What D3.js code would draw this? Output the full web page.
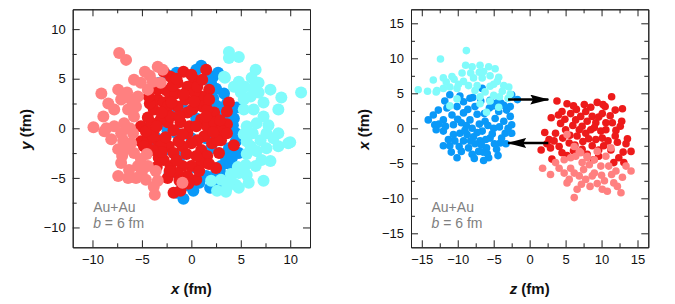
<!DOCTYPE html>
<html lang="en">
<head>
    <meta charset="UTF-8">
    <title>Au+Au nucleon positions</title>
    <script src="https://d3js.org/d3.v7.min.js"></script>
    <style>
        body { margin: 0; background: #fff; }
        svg { font-family: "Liberation Sans", Arial, Helvetica, sans-serif; }
        .axis path, .axis line { stroke: #222; }
        .axis text { font-size: 13px; fill: #111; }
        .label { font-size: 15px; font-weight: bold; fill: #111; }
        .note { font-size: 14px; fill: #808080; }
    </style>
</head>
<body>
    <svg id="chart" width="675" height="304"></svg>

    <script>
        // Left panel: transverse plane, [x, y] in fm
        const leftSalmon = [
            [-7.3,7.6],[-6.6,6.9],[-9.1,3.5],[-7.4,3.9],[-9.9,0.1],[-8.6,0.0],[-8.9,1.2],[-4.7,5.7],[-3.4,6.2],[-5.8,4.9],
            [-4.4,3.9],[-8.1,-1.1],[-7.4,-2.1],[-7.1,-3.5],[-7.4,-4.8],[-6.4,-5.0],[-5.6,-5.0],[-4.6,-5.2],[-3.6,-4.3],[-3.4,-5.3],
            [-3.7,-6.7],[-0.9,-5.5],[-5.1,-3.1],[-5.8,-2.5],[-6.1,-1.5],[-7.1,-0.5],[-7.8,0.2],[-6.8,0.5],[-6.4,1.9],[-7.8,1.9],
            [-8.4,2.5],[-7.1,2.9],[-6.1,2.9],[-5.4,3.2],[-5.6,2.2],[-5.8,1.2],[-5.9,-0.5],[-6.6,-2.1],
            [-5.4,-3.8],[-6.3,-4.2],[-4.4,-3.8],[-5.1,4.6],[-3.9,4.7],[-3.1,4.6],[-2.9,5.9],[-4.2,5.3],[-6.5,3.6],[-8.8,-0.3],
            [-6.9,-1.2],[-4.5,-2.6],[-3.8,-5.9],[-5.0,-4.4],[-6.2,0.0],[-7.0,-2.8]
        ];
        const leftRed = [
            [-0.8,5.7],[1.5,5.9],[1.8,3.9],[-2.1,5.2],[-2.8,5.7],[0.3,4.9],[-0.4,4.2],[1.0,3.2],[1.1,2.2],[2.3,1.6],
            [3.8,2.6],[3.6,1.7],[3.6,0.4],[4.3,-1.7],[2.8,-2.5],[2.5,-4.0],[0.5,-5.2],[-0.4,-4.8],[-2.4,-5.0],[-1.8,-6.5],
            [-1.1,-6.3],[-3.3,-3.0],[-5.1,-1.3],[-4.4,-1.2],[-3.4,-1.2],[-2.3,-1.8],[-1.8,-2.5],[-5.1,0.2],[-4.4,1.1],[-3.8,1.9],
            [-3.4,2.9],[-2.8,2.6],[-2.1,3.2],[-1.4,2.2],[-0.6,2.9],[-0.4,1.6],[-1.1,0.6],[-1.8,-0.2],[-2.4,0.6],[-3.1,0.9],
            [-3.8,-0.2],[1.0,0.9],[1.6,0.2],[2.3,0.6],[3.0,-0.2],[1.3,-0.8],[0.6,-1.2],[0.0,-1.5],[-0.9,-1.8],[1.0,-2.2],
            [1.6,-2.8],[1.0,-3.5],[0.0,-3.8],[-0.9,-3.8],[-1.4,-4.5],[0.5,-2.8],[2.1,-1.5],[3.0,-1.2],[3.6,-0.5],[2.6,-1.2],
            [-2.4,2.2],[-3.4,3.9],[-1.4,4.6],[0.3,3.6],[0.6,4.2],[1.1,4.9],[-2.1,1.2],[-3.9,-0.8],[-3.1,-1.8],[-0.4,-0.5],
            [0.1,1.9],[1.6,1.9],[1.8,2.9],[-2.8,-3.2],[-2.1,-3.8],[-4.6,-0.3],[-4.0,0.5],[-3.0,1.6],[-2.5,3.8],[-1.6,3.5],
            [-0.8,3.4],[-1.2,1.2],[-0.2,0.2],[0.5,0.2],[-2.6,-0.9],[-1.3,-1.3],[-0.5,-2.6],[-1.5,-3.2],[-2.2,-4.3],[-0.3,-5.6],
            [1.8,-3.6],[2.2,-0.4],[0.3,2.7],[-1.9,4.3],[-3.0,-2.4],[-4.2,2.5],[-3.5,-3.9],[-1.2,-5.3],[0.8,-4.3],[2.9,0.8],
            [1.5,1.2],[-0.9,-0.6],[-2.0,2.6],[-3.5,0.2],[-1.5,5.0],[0.0,5.4],[-4.8,-1.8],[-4.3,3.2],[-3.9,-2.2]
        ];
        const leftBlue = [
            [1.0,6.3],[0.5,5.9],[-1.5,5.6],[-2.5,5.4],[1.5,5.0],[2.0,4.5],[2.5,4.0],[3.3,3.5],[3.6,2.5],[3.0,2.0],
            [4.0,1.5],[4.3,1.0],[4.2,0.3],[4.5,-0.5],[4.5,-1.3],[4.8,-2.5],[3.8,-2.0],[3.5,-3.0],[3.0,-3.8],[2.5,-4.5],
            [1.5,-4.8],[0.8,-5.5],[-0.2,-5.8],[-1.0,-5.2],[-2.2,-4.5],[-0.8,-7.1],[-1.5,-6.5],[-3.5,-1.0],[-4.0,-1.5],[-3.0,0.5],
            [-2.0,1.5],[-1.5,-0.5],[0.0,-1.0],[2.0,-2.0],[1.5,-1.0],[0.5,1.0],[1.0,3.0],[2.2,3.0],[2.8,1.0],[3.2,-0.5],
            [2.0,0.0],[1.0,-3.0],[0.5,-4.0],[3.3,-4.8],[2.2,5.2],[2.7,5.6],[0.0,4.3],[-0.9,2.0],[-2.7,-2.2],[-1.2,-2.9],
            [2.6,-5.6],[1.9,-6.0],[0.2,-6.3],[3.9,-3.6],[4.0,0.0],[3.4,1.1],[2.5,2.3],[-3.2,4.6],[-4.5,0.0],[-2.4,-0.3],
            [4.6,2.1],[4.1,-3.0]
        ];
        const leftCyan = [
            [3.8,7.7],[3.8,7.1],[4.8,7.2],[6.5,5.9],[3.4,5.1],[4.8,4.7],[6.8,4.6],[6.3,4.1],[11.1,3.6],[9.1,3.1],
            [8.8,1.9],[7.3,2.6],[6.0,3.2],[5.3,2.9],[5.3,1.9],[6.3,1.9],[7.3,1.2],[6.6,0.5],[5.6,0.2],[7.6,-0.5],
            [8.8,-0.5],[9.8,-1.5],[8.8,-1.8],[7.6,-2.0],[6.6,-2.3],[5.6,-1.3],[5.3,-0.6],[8.0,-3.3],[7.1,-3.2],[6.5,-3.8],
            [5.5,-3.7],[4.7,-3.9],[4.0,-4.6],[4.8,-4.5],[5.6,-4.7],[7.3,-5.3],[4.5,-5.7],[4.8,-6.0],[3.6,-6.0],[2.6,-6.3],
            [3.0,-5.2],[2.0,-5.3],[4.0,-5.2],[6.0,-1.8],[7.0,-1.2],
            [3.3,5.2],[4.3,4.2],[5.0,3.6],[8.0,3.9],[6.8,3.6],[6.1,5.1],[10.0,-1.4],[8.3,-1.0],[5.8,-5.5],[3.5,-6.4],
            [5.4,4.2],[7.8,0.3],[6.2,-0.5],[5.6,-2.6]
        ];

        // Right panel: reaction plane, [z, x] in fm
        const rightBlue = [
            [-11.1,4.8],[-9.7,4.6],[-8.3,4.3],[-6.6,5.7],[-4.6,3.6],[-1.7,4.1],[-2.5,4.8],[-14.1,1.2],[-13.4,1.9],[-13.2,0.5],
            [-12.7,2.6],[-12.0,1.2],[-12.0,-0.4],[-11.3,-1.6],[-12.0,-2.5],[-11.1,-2.5],[-10.6,0.5],[-10.8,1.9],[-10.1,3.1],[-9.2,2.2],
            [-9.5,0.8],[-9.7,-0.7],[-9.2,-1.8],[-10.1,-4.2],[-8.5,-2.8],[-7.8,-1.2],[-8.0,0.0],[-8.3,1.2],[-7.3,2.0],[-7.6,3.1],
            [-6.2,1.0],[-6.6,-0.4],[-6.9,-1.8],[-7.1,-3.3],[-5.7,-4.2],[-6.0,-2.8],[-5.5,-1.4],[-5.0,0.0],[-4.8,1.4],[-4.3,2.4],
            [-3.6,1.0],[-3.4,-0.7],[-4.1,-2.1],[-4.6,-3.0],[-3.2,2.6],[-2.7,1.7],[-2.5,0.5],[-2.5,-0.7],[-2.7,3.1],[-9.2,3.8],
            [-5.5,4.0],[-10.6,-0.9],[-13.0,-0.2],[-11.7,0.3],[-11.5,2.9],[-10.0,1.3],[-8.8,0.4],[-8.7,-0.9],[-9.8,-2.6],[-8.0,-3.7],
            [-7.3,-0.6],[-7.0,0.6],[-6.3,2.1],[-5.8,0.4],[-5.2,-0.8],[-4.2,0.2],[-3.9,-1.4],[-6.5,-3.4],[-7.6,-2.2],[-8.6,2.7],
            [-6.8,3.9],[-5.6,2.9],[-4.0,3.6],[-3.3,-2.2],[-10.4,-1.8],[-7.9,4.4],[-11.8,3.9],[-9.5,-3.3],[-6.1,-1.6],[-4.9,-2.2],
            [-5.1,3.2],[-8.2,-1.8],[-6.7,-2.4],[-3.0,0.0],[-12.6,0.6],[-10.9,-3.4],[-4.4,-3.9],[-5.9,-3.6],[-9.0,-0.3],[-7.7,-4.3],
            [-6.4,-4.6],[-3.6,3.3]
        ];
        const rightCyan = [
            [-8.8,11.1],[-12.4,9.9],[-15.5,5.5],[-14.2,5.3],[-13.4,6.9],[-12.0,7.2],[-10.8,7.4],[-9.4,7.9],[-9.2,6.7],[-8.0,8.8],
            [-6.9,9.0],[-5.7,8.8],[-4.8,8.5],[-5.5,7.5],[-4.3,7.3],[-3.6,6.1],[-2.9,5.9],[-2.7,4.9],[-5.0,4.7],[-6.2,5.2],
            [-7.3,6.1],[-8.5,6.1],[-10.1,5.7],[-11.1,5.9],[-12.0,5.7],[-12.9,5.4],[-6.6,7.2],[-7.8,7.2],[-6.4,8.1],[-4.5,6.7],
            [-5.5,6.0],[-5.5,3.9],[-4.3,3.0],[-6.0,2.3],[-6.9,3.5],[-11.1,3.2],[-10.1,4.2],[-6.9,4.5],[-8.9,9.0],[-3.0,4.3],
            [-9.9,6.3],[-11.6,6.6],[-13.0,5.2],[-7.6,5.4],[-3.8,5.3],[-8.2,7.9],[-10.5,7.0],[-5.0,6.3],[-7.0,8.0],[-4.2,4.5]
        ];
        const rightRed = [
            [3.8,3.9],[5.2,3.5],[9.4,3.7],[10.5,3.1],[11.4,4.5],[12.9,2.8],[12.8,1.0],[2.1,-0.6],[1.6,-3.1],[3.1,-4.4],
            [4.3,0.7],[5.7,2.1],[6.4,1.2],[7.8,2.4],[8.7,1.7],[10.1,2.1],[11.5,0.8],[12.0,-0.3],[13.4,-2.2],[14.1,-3.3],
            [13.6,-1.5],[12.2,-2.0],[11.3,-3.1],[13.1,-4.9],[11.7,-4.9],[10.3,-2.5],[9.2,-1.6],[7.8,-0.7],[6.6,-1.1],[5.5,-2.1],
            [4.1,-2.6],[2.9,-2.8],[2.7,-1.6],[3.6,-0.7],[5.0,-0.2],[7.3,0.3],[8.5,-0.2],[9.9,-0.4],[10.6,-0.2],[10.6,0.8],
            [9.2,0.8],[8.0,1.0],[7.1,1.7],[4.5,2.4],[9.6,-3.1],[8.7,-2.5],[7.3,-3.0],[6.1,-3.2],[10.1,-1.4],[5.2,-3.9],
            [4.5,-3.5],[8.9,-4.5],[6.0,0.4],[6.9,-0.2],[8.2,-1.5],[9.6,1.6],[11.2,1.8],[11.9,-1.1],[10.9,-1.8],[6.5,2.7],
            [8.5,3.0],[4.9,1.3],[3.4,-1.8],[5.6,-1.0],[7.4,-1.9],[9.0,0.1],[12.6,0.3],[3.0,1.5],[7.6,3.4],[10.2,3.4],
            [11.9,2.6],[13.0,-3.4],[12.4,-4.2],[9.6,-4.0],[4.6,-1.4],[6.3,-2.4],[8.0,-3.7],[2.4,-2.2],[6.1,3.2],[4.0,1.9]
        ];
        const rightSalmon = [
            [1.8,-5.7],[2.9,-6.6],[4.1,-5.7],[5.2,-0.9],[4.8,-4.5],[5.7,-4.2],[5.5,-7.3],[5.2,-7.8],[6.2,-9.9],[6.6,-8.7],
            [6.9,-6.8],[7.5,-5.9],[8.3,-5.2],[9.4,-3.3],[8.0,-4.0],[7.1,-3.5],[6.4,-4.0],[9.0,-6.4],[10.1,-8.7],[10.8,-9.0],
            [10.4,-7.5],[11.7,-7.8],[12.7,-9.2],[12.2,-8.3],[14.1,-6.1],[13.4,-5.4],[12.0,-6.1],[11.0,-5.4],[9.9,-5.4],[10.6,-4.0],
            [11.3,-2.8],[8.7,-6.8],[7.8,-7.3],[6.2,-6.4],[7.3,-4.9],[9.0,-4.5],[6.2,-2.6],[6.9,-3.3],[3.6,-4.9],[4.8,-6.4],
            [5.7,-5.7],[8.0,-4.2],[10.0,-6.7],[11.4,-6.6],[12.9,-7.0],[9.4,-7.9],[8.4,-8.3],[7.2,-8.0]
        ];

        // arrows in the right panel: [z0, x0, z1, x1]
        const arrows = [[-3.0, 4.1, 2.6, 4.1], [2.6, -2.1, -3.0, -2.1]];

        const leftTicks = [-10, -5, 0, 5, 10];
        const rightTicks = [-15, -10, -5, 0, 5, 10, 15];

        const colors = { salmon: "#ff8080", red: "#ed1a1a", blue: "#0a99f8", cyan: "#80fbfb" };

        const svg = d3.select("#chart");

        function drawPanel(p) {
            const x = d3.scaleLinear().domain(p.xDomain).range([p.left, p.right]);
            const y = d3.scaleLinear().domain(p.yDomain).range([p.bottom, p.top]);
            const minor = (dom, step) => d3.range(Math.ceil(dom[0] / step) * step, dom[1] + 1e-9, step)
                .filter(v => Math.abs(v % 5) > 1e-6);

            // points: participants first, spectators on top
            p.layers.forEach(layer => {
                svg.append("g").selectAll("circle")
                    .data(layer.data)
                    .enter().append("circle")
                    .attr("cx", d => x(d[0]))
                    .attr("cy", d => y(d[1]))
                    .attr("r", p.r)
                    .attr("fill", layer.color);
            });

            // axes: major + minor ticks, inward, on all four sides
            const addAxis = (axisFn, scale, ticks, tf, pos, size) => {
                svg.append("g").attr("class", "axis")
                    .attr("transform", pos)
                    .call(axisFn(scale).tickValues(ticks).tickSizeInner(-size).tickSizeOuter(0)
                        .tickPadding(7).tickFormat(tf));
            };
            const fmt = d3.format("d");
            const none = () => "";
            const xMinor = minor(p.xDomain, 2.5), yMinor = minor(p.yDomain, 2.5);
            addAxis(d3.axisBottom, x, p.xTicks, fmt, `translate(0,${p.bottom})`, 7);
            addAxis(d3.axisBottom, x, xMinor, none, `translate(0,${p.bottom})`, 4);
            addAxis(d3.axisTop, x, p.xTicks, none, `translate(0,${p.top})`, 7);
            addAxis(d3.axisTop, x, xMinor, none, `translate(0,${p.top})`, 4);
            addAxis(d3.axisLeft, y, p.yTicks, fmt, `translate(${p.left},0)`, 7);
            addAxis(d3.axisLeft, y, yMinor, none, `translate(${p.left},0)`, 4);
            addAxis(d3.axisRight, y, p.yTicks, none, `translate(${p.right},0)`, 7);
            addAxis(d3.axisRight, y, yMinor, none, `translate(${p.right},0)`, 4);

            // axis titles
            const xl = svg.append("text").attr("class", "label")
                .attr("x", (p.left + p.right) / 2).attr("y", 293.5).attr("text-anchor", "middle");
            xl.append("tspan").attr("font-style", "italic").text(p.xVar);
            xl.append("tspan").text(" (fm)");
            const yl = svg.append("text").attr("class", "label")
                .attr("transform", `translate(${p.left - 42},${(p.top + p.bottom) / 2 + 1}) rotate(-90)`)
                .attr("text-anchor", "middle");
            yl.append("tspan").attr("font-style", "italic").text(p.yVar);
            yl.append("tspan").text(" (fm)");

            // system note
            svg.append("text").attr("class", "note")
                .attr("x", p.left + 20.5).attr("y", 211.5).text("Au+Au");
            const b = svg.append("text").attr("class", "note")
                .attr("x", p.left + 20.5).attr("y", 227.5);
            b.append("tspan").attr("font-style", "italic").text("b");
            b.append("tspan").text(" = 6 fm");

            return { x, y };
        }

        drawPanel({
            left: 72.7, right: 310, top: 9.3, bottom: 247.3,
            xDomain: [-12, 12], yDomain: [-12, 12],
            xTicks: leftTicks, yTicks: leftTicks, r: 6,
            xVar: "x", yVar: "y",
            layers: [
                { data: leftBlue, color: colors.blue },
                { data: leftRed, color: colors.red },
                { data: leftCyan, color: colors.cyan },
                { data: leftSalmon, color: colors.salmon }
            ]
        });

        const rp = drawPanel({
            left: 411, right: 648.3, top: 9.3, bottom: 247.3,
            xDomain: [-16.5, 16.5], yDomain: [-17, 17],
            xTicks: rightTicks, yTicks: rightTicks, r: 3.8,
            xVar: "z", yVar: "x",
            layers: [
                { data: rightBlue, color: colors.blue },
                { data: rightRed, color: colors.red },
                { data: rightCyan, color: colors.cyan },
                { data: rightSalmon, color: colors.salmon }
            ]
        });

        // direction arrows
        svg.append("defs").append("marker")
            .attr("id", "head")
            .attr("viewBox", "0 0 10 10")
            .attr("refX", 9.5).attr("refY", 5)
            .attr("markerUnits", "userSpaceOnUse")
            .attr("markerWidth", 19).attr("markerHeight", 10)
            .attr("orient", "auto")
            .attr("preserveAspectRatio", "none")
            .append("path")
            .attr("d", "M0,0 L10,5 L0,10 L1.5,5 Z")
            .attr("fill", "#000");

        svg.append("g").selectAll("line")
            .data(arrows)
            .enter().append("line")
            .attr("x1", d => rp.x(d[0]))
            .attr("y1", d => rp.y(d[1]))
            .attr("x2", d => rp.x(d[2]))
            .attr("y2", d => rp.y(d[3]))
            .attr("stroke", "#000")
            .attr("stroke-width", 2.5)
            .attr("marker-end", "url(#head)");
    </script>
</body>
</html>
